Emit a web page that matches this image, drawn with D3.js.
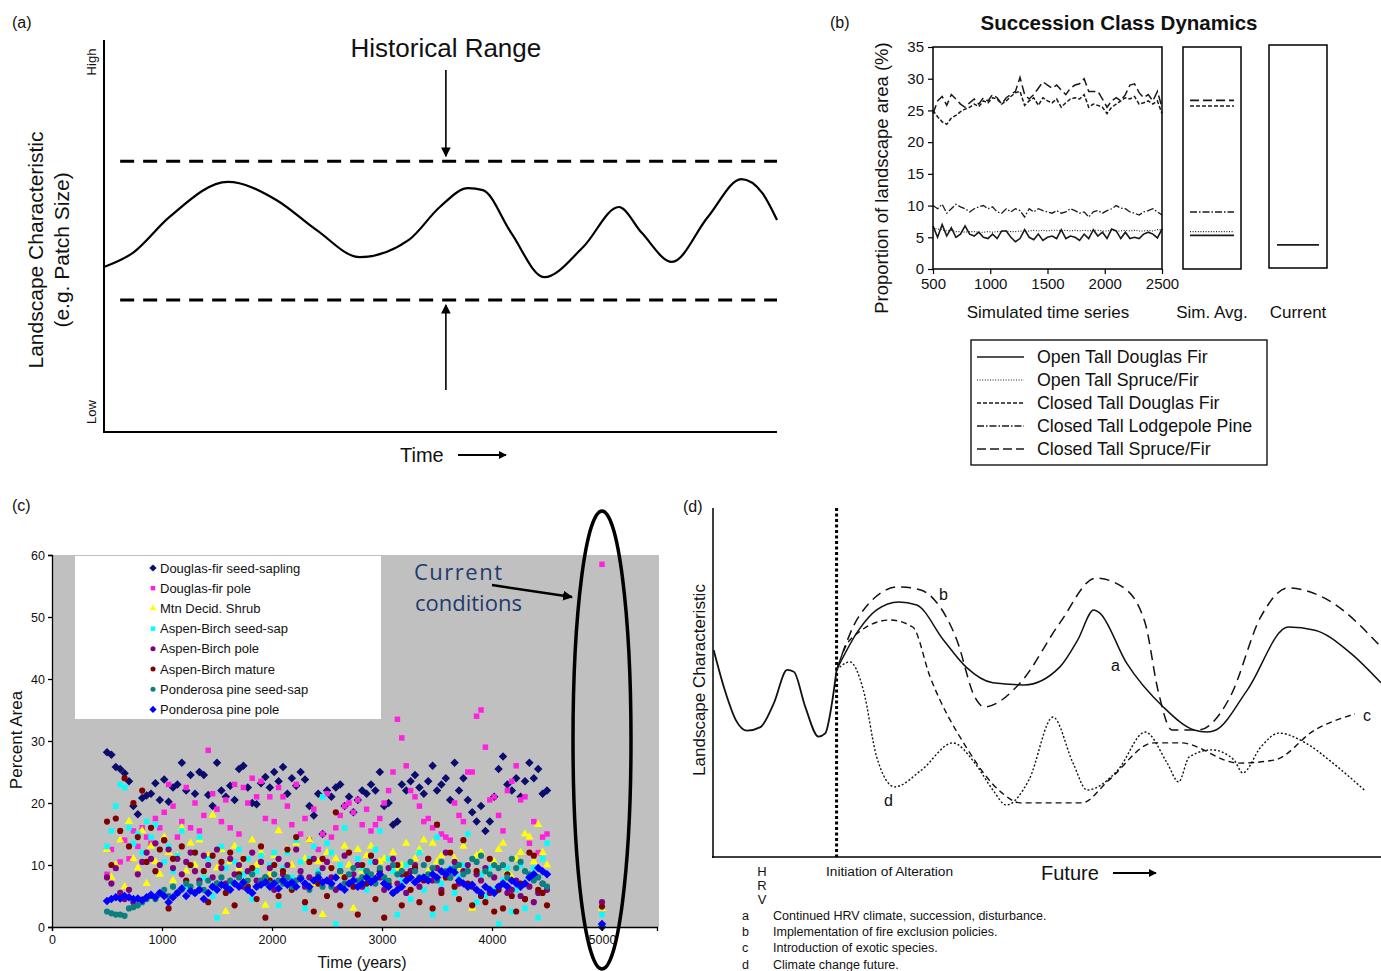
<!DOCTYPE html>
<html><head><meta charset="utf-8">
<script src="https://cdn.jsdelivr.net/npm/d3@7"></script>
<style>body{margin:0;background:#fff}svg{display:block}text{font-family:"Liberation Sans",Arial,sans-serif;fill:#111}</style>
</head><body><svg id="c" width="1381" height="971"></svg>
<script>
// ---------- Panel (a) data (conceptual units 0-100) ----------
const aTime  = [0,4.3,9.7,18.4,25.6,31.6,38.0,45.3,49.9,54.1,56.3,60.5,65.4,71.2,76.5,79.9,84.4,89.7,94.7,97.8,100];
const aValue = [42.1,45.7,54.8,63.8,59.2,51.5,44.6,49.0,57.4,62.2,61.7,50.8,39.5,47.2,57.4,50.8,43.4,54.8,64.5,61.0,54.1];
const aRange = [33.7, 69.1];

// ---------- Panel (b) data ----------
const bTimes = d3.range(500, 2501, 40);
const bOpenDF   = [6.8,5.0,7.0,5.2,6.5,5.0,5.5,6.8,5.5,5.2,5.8,5.0,4.8,5.5,4.8,6.0,6.0,5.0,4.3,4.8,6.2,5.0,4.6,5.5,4.5,5.0,5.2,4.8,6.2,4.8,5.2,5.0,4.5,5.5,4.8,6.2,5.2,5.8,4.8,6.3,6.0,4.8,5.8,4.8,5.0,4.8,5.5,5.8,5.5,4.9,6.3];
const bOpenSF   = [6.5,6.3,6.2,6.0,6.1,5.9,5.9,5.8,5.9,5.9,5.8,5.8,5.9,5.8,5.9,5.9,6.0,5.9,5.9,6.0,5.9,6.0,6.1,6.0,6.1,6.0,6.1,6.1,6.0,6.1,6.0,6.1,6.0,6.1,6.0,6.1,6.1,6.0,6.0,6.1,6.0,6.0,6.1,6.0,6.1,6.0,6.0,6.1,6.0,6.2,6.2];
const bClosedDF = [25.0,24.0,23.2,22.8,23.8,24.2,24.8,25.2,25.5,26.0,25.6,26.5,26.2,27.0,26.8,26.0,26.5,27.2,27.8,28.0,25.8,26.5,27.0,25.8,27.0,26.5,26.2,26.8,25.5,26.2,26.8,27.0,26.8,27.5,25.5,26.0,25.8,25.5,24.5,25.5,26.0,26.5,27.0,26.8,27.2,26.0,26.2,26.5,26.0,26.5,24.5];
const bClosedLP = [10.0,9.5,10.2,8.8,9.5,10.2,9.8,9.5,9.0,9.5,9.8,10.0,9.5,9.8,9.0,8.8,9.5,9.0,9.5,9.2,8.2,9.5,9.0,9.5,9.2,9.0,8.8,9.2,8.8,9.0,9.5,9.2,8.8,9.0,8.2,9.0,9.2,8.8,9.2,9.5,10.0,9.6,9.5,9.0,8.8,8.5,9.0,9.2,9.5,9.0,8.5];
const bClosedSF = [24.5,26.5,27.2,25.8,27.5,26.8,26.0,25.5,26.2,26.8,26.0,27.0,26.5,27.5,27.0,26.0,27.0,27.5,28.0,30.2,27.5,26.8,27.5,28.5,29.5,29.0,28.5,29.0,28.2,27.5,28.5,29.0,29.2,30.0,28.0,28.0,28.0,26.8,25.5,26.5,27.0,26.5,27.5,29.0,29.2,27.8,27.0,27.5,26.5,28.0,25.5];
const bNames   = ["Open Tall Douglas Fir","Open Tall Spruce/Fir","Closed Tall Douglas Fir","Closed Tall Lodgepole Pine","Closed Tall Spruce/Fir"];
const bSimAvg  = [5.3, 5.9, 25.7, 9.0, 26.6];
const bCurrent = [3.8, null, null, null, null];
const bYTicks  = [0,5,10,15,20,25,30,35];
const bXTicks  = [500,1000,1500,2000,2500];

// ---------- Panel (c) data ----------
const cTimes = d3.range(500, 4501, 40);
const cDFSeed = [28.2,27.8,25.8,25.5,24.8,23.5,19.5,18.2,20.8,21.2, 21.5,23.2,20.5,23.8,20.2,22.5,23.0,26.5,22.0,24.5, 21.5,25.0,24.5,21.3,19.5,26.5,22.0,21.0,22.8,20.5, 25.5,26.0,22.5,20.0,19.8,23.2,24.2,22.5,25.0,23.5, 25.8,21.5,24.0,22.8,25.0,23.8,19.5,18.0,21.5,15.0, 22.0,21.0,22.5,23.0,19.5,21.0,18.5,20.5,22.0,21.5, 23.0,22.0,25.0,19.5,20.0,16.5,17.0,23.0,22.0,23.5, 24.5,22.5,21.5,23.5,26.0,22.0,23.0,24.0,20.5,26.5, 22.0,24.0,20.5,18.5,17.0,19.5,15.5,17.0,21.0,25.5, 27.5,23.0,22.0,24.0,21.0,23.5,26.5,24.0,25.5,21.5,22.0];
const cDFPole = [8.5,12.5,9.5,10.5,14.0,11.0,15.5,13.0,16.0,14.5, 13.5,17.5,16.0,18.5,23.0,19.5,14.5,17.0,22.5,16.0, 20.0,15.5,18.0,28.5,21.5,19.0,17.0,20.5,16.0,23.0, 15.0,22.5,20.0,24.0,21.0,23.5,17.5,21.0,17.0,22.5, 21.0,19.5,16.5,23.0,15.0,17.5,14.0,19.0,12.5,15.0, 21.5,14.5,16.0,18.0,19.5,20.0,18.5,20.5,16.5,19.0, 15.5,16.5,17.5,20.0,22.0,25.0,33.5,30.5,26.0,22.0, 21.0,19.5,17.0,17.5,16.0,16.5,15.0,14.5,14.0,20.0, 18.0,17.0,25.0,25.0,34.0,35.0,29.0,20.5,21.0,18.0, 15.5,22.0,23.5,26.0,20.5,21.0,13.5,17.0,12.0,14.5,15.0];
const cShrub = [12.5,8.0,10.0,14.0,6.5,17.0,11.0,9.5,15.5,7.0, 13.0,10.5,8.5,14.5,12.0,7.5,11.5,16.0,9.0,13.5, 10.0,14.0,8.0,11.5,18.0,9.5,12.5,2.5,10.5,13.0, 9.5,11.0,7.5,14.0,10.0,12.0,3.5,8.5,11.5,15.5, 9.0,12.5,10.0,13.5,8.0,11.0,14.0,7.0,10.5,2.0, 12.0,9.5,11.0,8.5,13.0,10.0,3.0,12.5,9.0,11.5, 13.0,8.0,10.5,11.0,7.5,12.0,9.5,10.0,13.5,8.5, 11.0,12.5,14.0,9.0,13.5,10.5,11.5,8.0,12.0,11.0, 9.5,13.0,10.0,3.0,11.5,12.0,9.0,8.5,10.5,12.5, 13.5,9.0,8.0,11.0,12.0,15.0,14.5,10.5,16.5,12.0,10.0];
const cABSeed = [13.0,15.5,19.5,23.0,22.5,16.0,13.5,15.0,12.0,17.0, 14.5,16.5,12.5,10.5,13.0,9.0,11.5,15.5,6.5,10.0, 12.0,14.5,8.0,11.0,5.0,1.5,13.0,9.5,7.0,10.5, 12.5,8.5,11.0,4.5,9.0,11.5,7.0,10.0,12.0,3.5, 9.5,12.0,8.0,14.0,10.5,3.0,11.0,13.0,9.0,21.0, 13.5,12.0,0.5,10.0,16.0,8.5,7.0,11.0,9.5,6.0, 10.5,12.5,15.5,8.0,11.0,9.0,2.0,7.5,10.0,4.5, 9.5,12.0,6.0,8.5,2.0,14.5,7.0,3.0,9.5,5.5, 8.0,10.0,15.0,6.5,4.0,8.5,5.0,9.5,6.0,0.5, 7.5,9.5,2.5,6.0,10.0,3.0,8.0,9.5,1.5,11.0,13.5];
const cABPole = [8.0,7.0,9.5,5.5,4.5,6.0,4.0,8.5,10.5,12.0, 11.0,13.5,10.0,14.0,12.5,9.5,11.0,8.5,10.5,12.0, 9.0,7.5,11.5,10.0,8.0,12.5,9.5,7.0,11.0,8.5, 10.0,6.5,9.0,12.0,7.5,10.5,8.0,9.5,6.0,11.0, 8.5,10.0,7.0,12.5,9.0,6.5,8.0,11.0,7.5,9.5, 10.5,8.0,6.0,9.0,11.5,7.0,8.5,10.0,6.5,9.0, 7.5,10.5,8.0,6.0,9.5,11.0,7.0,8.5,5.5,9.0, 10.0,6.5,8.0,11.0,7.5,9.5,6.0,12.0,8.0,10.5, 7.0,9.0,10.0,6.5,8.5,7.5,9.5,5.5,8.0,6.5, 7.0,5.5,6.0,7.5,5.0,4.5,6.5,4.0,5.5,7.0,6.0];
const cABMature = [17.0,10.0,17.5,15.5,24.0,13.0,20.0,14.5,22.0,10.5, 16.0,9.0,12.5,14.0,3.0,11.0,5.5,13.0,7.5,10.0, 12.0,6.0,9.0,4.0,11.5,7.0,10.5,5.5,12.0,3.5, 8.5,11.0,6.5,9.5,4.5,13.0,1.5,7.5,10.0,5.0, 9.0,12.5,6.0,14.5,8.0,4.0,10.5,2.5,7.0,11.0, 5.0,9.5,18.5,3.5,8.0,12.0,6.5,2.0,10.0,7.0, 11.5,4.5,9.0,1.5,7.0,5.5,10.0,3.5,8.5,6.0, 9.5,4.0,7.5,11.0,3.0,16.5,5.5,8.0,12.0,6.5, 4.5,14.0,7.0,3.5,9.0,5.0,4.0,11.0,2.5,6.0, 3.0,8.5,5.0,2.5,7.0,4.5,12.0,11.5,6.0,5.5,3.5];
const cPPSeed = [2.5,2.2,2.0,2.0,1.8,3.0,3.2,3.5,4.0,4.5, 5.0,4.5,5.5,6.0,5.0,6.5,5.5,6.0,7.0,6.5, 5.5,7.0,6.0,7.5,6.5,7.0,8.0,6.5,7.5,7.0, 8.0,7.0,7.5,8.5,6.5,7.5,8.0,7.0,8.5,7.5, 7.0,8.0,6.5,7.5,8.0,7.0,6.0,7.5,8.5,6.5, 7.5,6.5,8.0,9.0,7.0,8.5,9.5,7.5,8.0,9.0, 8.5,7.0,9.5,8.0,7.5,10.0,8.5,9.0,7.5,10.5, 9.0,8.0,10.0,8.5,9.5,7.5,10.5,9.0,8.0,9.5, 10.0,8.5,9.0,11.0,10.5,11.5,9.0,8.5,10.0,9.5, 10.0,8.0,11.0,9.5,10.5,9.0,8.5,7.5,8.0,7.0,6.5];
const cPPPole = [4.2,4.5,4.8,4.6,5.0,4.8,4.5,4.6,4.3,4.8, 5.2,4.8,5.5,5.0,4.0,4.8,5.5,6.2,5.0,5.8, 5.5,6.0,4.5,5.5,6.5,6.0,6.8,6.5,6.0,7.0, 6.5,7.2,6.0,5.5,6.5,6.8,7.2,6.5,7.0,6.2, 7.5,6.8,7.2,6.5,7.8,7.0,6.5,7.5,8.0,7.2, 7.5,7.0,8.0,6.5,6.0,7.0,7.5,6.5,7.0,8.0, 7.2,7.8,8.5,7.0,6.5,5.5,6.0,6.5,7.5,8.0, 7.2,7.8,8.0,7.5,8.5,8.0,9.0,8.5,9.2,8.8, 7.5,7.0,6.5,6.8,6.0,5.5,6.5,6.0,5.5,6.5, 7.0,6.5,7.5,7.0,6.5,7.0,8.0,8.5,9.5,9.0,8.5];
const cNames   = ["Douglas-fir seed-sapling","Douglas-fir pole","Mtn Decid. Shrub","Aspen-Birch seed-sap","Aspen-Birch pole","Aspen-Birch mature","Ponderosa pine seed-sap","Ponderosa pine pole"];
const cColors  = ["#0c0c6e","#ff22dd","#ffff00","#00ffff","#800080","#800000","#0a8080","#0000ff"];
const cShapes  = ["diamond","square","triangle","square","circle","circle","circle","diamond"];
const cCurrentTime = 5000;
const cCurrent = [0.0, 58.5, 3.0, 2.0, 4.0, 3.3, 0.3, 0.5];
const cYTicks  = [0,10,20,30,40,50,60];
const cXTicks  = [0,1000,2000,3000,4000,5000];

// ---------- Panel (d) data (conceptual units 0-100) ----------
const dHrvT = [0.1,1.75,3.4,5.1,7.1,9.1,11.1,12.1,13.8,15.8,16.8,17.8,18.5];
const dHrvV = [59.3,47.9,39.3,36.2,37.2,44.0,53.6,53.1,43.1,34.5,35.4,44.0,53.6];
const dAT = [18.5,21.8,24.5,27.8,30.5,34.5,37.9,41.9,46.6,51.9,54.6,57.0,57.9,61.9,67.4,72.0,74.0,75.3,80.0,86.1,90.1,95.4,100];
const dAV = [53.6,65.0,70.8,73.1,72.2,62.2,54.4,49.9,49.3,54.4,62.2,70.8,69.9,55.6,43.0,36.4,35.8,36.4,47.9,65.9,65.0,58.5,49.9];
const dBT = [18.5,21.8,27.8,31.1,33.2,36.5,39.2,40.6,46.0,51.9,57.3,61.3,64.7,66.6,68.7,72.7,77.4,82.0,86.1,92.1,100];
const dBV = [53.6,68.8,77.4,76.5,73.6,62.2,45.8,43.0,49.9,67.0,79.9,77.4,67.0,47.9,36.4,36.4,45.8,68.8,77.1,73.6,60.2];
const dCT = [18.5,20.5,26.5,29.9,32.5,37.9,43.3,46.0,55.2,59.3,66.0,70.0,78.7,84.1,90.1,96.1];
const dCV = [53.6,62.2,67.9,65.9,51.6,31.5,18.3,15.5,15.5,22.1,32.7,32.7,26.9,27.8,36.4,41.0];
const dDT = [18.5,20.5,22.5,24.5,27.2,31.2,35.9,39.2,41.9,43.9,47.3,50.9,53.9,56.0,60.6,64.7,68.0,69.7,71.3,74.7,78.0,79.3,82.0,84.7,88.7,92.8,97.5];
const dDV = [53.6,55.9,47.9,28.7,20.1,24.9,32.7,26.9,19.2,14.9,22.1,40.1,26.9,19.2,24.9,35.8,26.9,21.5,28.7,30.7,27.8,24.1,31.5,35.5,32.7,26.9,19.2];
const dAlteration = 18.5;
const dNotes = [["a","Continued HRV climate, succession, disturbance."],["b","Implementation of fire exclusion policies."],["c","Introduction of exotic species."],["d","Climate change future."]];

// ================= drawing =================
const svg = d3.select('#c');
svg.append('rect').attr('width',1381).attr('height',971).attr('fill','#fff');
const defs = svg.append('defs');
defs.append('marker').attr('id','arr').attr('viewBox','0 0 10 10').attr('refX',9).attr('refY',5)
  .attr('markerWidth',6).attr('markerHeight',6).attr('markerUnits','strokeWidth').attr('orient','auto')
  .append('path').attr('d','M0,0L10,5L0,10z').attr('fill','#000');
defs.append('marker').attr('id','arrS').attr('viewBox','0 0 10 10').attr('refX',9).attr('refY',5)
  .attr('markerWidth',4).attr('markerHeight',4).attr('markerUnits','strokeWidth').attr('orient','auto')
  .append('path').attr('d','M0,0L10,5L0,10z').attr('fill','#000');

function txt(g,x,y,s,size,opts={}){
  const t=g.append('text').attr('x',x).attr('y',y).text(s).attr('font-size',size);
  if(opts.anchor) t.attr('text-anchor',opts.anchor);
  if(opts.weight) t.attr('font-weight',opts.weight);
  if(opts.fill) t.style('fill',opts.fill);
  if(opts.rot) t.attr('transform',`rotate(-90,${x},${y})`);
  if(opts.family) t.style('font-family',opts.family);
  if(opts.ls) t.attr('letter-spacing',opts.ls);
  return t;
}

// ---------- Panel (a) ----------
{
  const g = svg.append('g');
  const x = d3.scaleLinear([0,100],[104,777]);
  const y = d3.scaleLinear([0,100],[432,40]);
  txt(g,12,28,'(a)',16);
  g.append('line').attr('x1',104).attr('x2',104).attr('y1',40).attr('y2',433).attr('stroke','#000').attr('stroke-width',2);
  g.append('line').attr('x1',103).attr('x2',777).attr('y1',432).attr('y2',432).attr('stroke','#000').attr('stroke-width',2);
  aRange.forEach(v=>g.append('line').attr('x1',x(2.4)).attr('x2',x(100)).attr('y1',y(v)).attr('y2',y(v))
    .attr('stroke','#000').attr('stroke-width',3).attr('stroke-dasharray','14,9'));
  g.append('path').datum(aTime.map((t,i)=>[t,aValue[i]]))
    .attr('d',d3.line().x(d=>x(d[0])).y(d=>y(d[1])).curve(d3.curveMonotoneX))
    .attr('fill','none').attr('stroke','#000').attr('stroke-width',2.2);
  const xm = x(50.8);
  g.append('line').attr('x1',xm).attr('x2',xm).attr('y1',70).attr('y2',y(aRange[1])-5).attr('stroke','#000').attr('stroke-width',1.6).attr('marker-end','url(#arr)');
  g.append('line').attr('x1',xm).attr('x2',xm).attr('y1',390).attr('y2',y(aRange[0])+5).attr('stroke','#000').attr('stroke-width',1.6).attr('marker-end','url(#arr)');
  txt(g,xm,57,'Historical Range',26,{anchor:'middle'});
  txt(g,400,462,'Time',20);
  g.append('line').attr('x1',458).attr('x2',506).attr('y1',455).attr('y2',455).attr('stroke','#000').attr('stroke-width',2).attr('marker-end','url(#arrS)');
  txt(g,43,250,'Landscape Characteristic',21,{anchor:'middle',rot:true});
  txt(g,69,250,'(e.g. Patch Size)',21,{anchor:'middle',rot:true});
  txt(g,96,62,'High',13,{anchor:'middle',rot:true});
  txt(g,96,412,'Low',13,{anchor:'middle',rot:true});
}

// ---------- Panel (b) ----------
{
  const g = svg.append('g');
  const x = d3.scaleLinear([500,2500],[933,1162]);
  const y = d3.scaleLinear([0,35],[269,47]);
  txt(g,830,28,'(b)',16);
  txt(g,1119,30,'Succession Class Dynamics',20.5,{anchor:'middle',weight:'bold'});
  const dashes = [null,'1,1.6','4,2','7,2,1.5,2','9,4'];
  const widths = [1.6,1.1,1.5,1.3,1.5];
  const series = [bOpenDF,bOpenSF,bClosedDF,bClosedLP,bClosedSF];
  series.forEach((vals,k)=>{
    g.append('path').datum(vals.map((v,i)=>[bTimes[i],v]))
      .attr('d',d3.line().x(d=>x(d[0])).y(d=>y(d[1])))
      .attr('fill','none').attr('stroke','#1a1a1a').attr('stroke-width',widths[k])
      .attr('stroke-dasharray',dashes[k]);
  });
  g.append('rect').attr('x',933).attr('y',47).attr('width',229).attr('height',222).attr('fill','none').attr('stroke','#000').attr('stroke-width',1.5);
  const ya = g.append('g').attr('transform','translate(933,0)').call(d3.axisLeft(y).tickValues(bYTicks).tickSize(5).tickPadding(4));
  const xa = g.append('g').attr('transform','translate(0,269)').call(d3.axisBottom(x).tickValues(bXTicks).tickSize(5).tickPadding(4).tickFormat(d3.format('d')));
  [ya,xa].forEach(a=>{a.select('.domain').remove();a.selectAll('text').attr('font-size',15).style('font-family','"Liberation Sans",Arial,sans-serif').style('fill','#111');a.selectAll('line').attr('stroke','#000').attr('stroke-width',1.2);});
  const yS = y;
  g.append('rect').attr('x',1183).attr('y',47).attr('width',58).attr('height',222).attr('fill','none').attr('stroke','#000').attr('stroke-width',1.5);
  bSimAvg.forEach((v,k)=>g.append('line').attr('x1',1190).attr('x2',1234).attr('y1',yS(v)).attr('y2',yS(v))
    .attr('stroke','#1a1a1a').attr('stroke-width',widths[k]+0.2).attr('stroke-dasharray',dashes[k]));
  g.append('rect').attr('x',1269).attr('y',45).attr('width',58).attr('height',223).attr('fill','none').attr('stroke','#000').attr('stroke-width',1.5);
  bCurrent.forEach((v,k)=>{ if(v==null) return;
    g.append('line').attr('x1',1277).attr('x2',1319).attr('y1',yS(v)).attr('y2',yS(v))
    .attr('stroke','#1a1a1a').attr('stroke-width',widths[k]).attr('stroke-dasharray',dashes[k]);});
  txt(g,888,178,'Proportion of landscape area (%)',18.5,{anchor:'middle',rot:true});
  txt(g,1048,318,'Simulated time series',17,{anchor:'middle'});
  txt(g,1212,318,'Sim. Avg.',17,{anchor:'middle'});
  txt(g,1298,318,'Current',17,{anchor:'middle'});
  g.append('rect').attr('x',971).attr('y',340).attr('width',296).attr('height',125).attr('fill','#fff').attr('stroke','#000').attr('stroke-width',1.3);
  bNames.forEach((n,k)=>{
    const yy = 357 + k*23;
    g.append('line').attr('x1',977).attr('x2',1024).attr('y1',yy).attr('y2',yy)
      .attr('stroke','#1a1a1a').attr('stroke-width',widths[k]).attr('stroke-dasharray',dashes[k]);
    txt(g,1037,yy+6,n,17.8);
  });
}

// ---------- Panel (c) ----------
{
  const g = svg.append('g');
  const x = d3.scaleLinear([0,5500],[52,657]);
  const y = d3.scaleLinear([0,60],[927,555]);
  txt(g,12,511,'(c)',16);
  g.append('rect').attr('x',52).attr('y',555).attr('width',607).attr('height',372).attr('fill','#c0c0c0');
  const shapeOf = {diamond:d3.symbolSquare,square:d3.symbolSquare,triangle:d3.symbolTriangle,circle:d3.symbolCircle};
  const sizeOf = {diamond:36,square:30,triangle:30,circle:30};
  const rotOf = {diamond:45,square:0,triangle:0,circle:0};
  const all = [cDFSeed,cDFPole,cShrub,cABSeed,cABPole,cABMature,cPPSeed,cPPPole];
  all.forEach((vals,k)=>{
    const s = cShapes[k];
    const sym = d3.symbol().type(shapeOf[s]).size(sizeOf[s]);
    g.append('g').selectAll('path').data(vals.map((v,i)=>[cTimes[i],v]).concat([[cCurrentTime,cCurrent[k]]]))
      .join('path').attr('d',sym).attr('transform',d=>`translate(${x(d[0])},${y(d[1])}) rotate(${rotOf[s]})`).attr('fill',cColors[k]);
  });
  const ya = g.append('g').attr('transform','translate(52,0)').call(d3.axisLeft(y).tickValues(cYTicks).tickSize(4).tickPadding(3));
  const xa = g.append('g').attr('transform','translate(0,927)').call(d3.axisBottom(x).tickValues(cXTicks).tickSize(4).tickPadding(4).tickFormat(d3.format('d')));
  [ya,xa].forEach(a=>{a.selectAll('text').attr('font-size',12.5).style('font-family','"Liberation Sans",Arial,sans-serif').style('fill','#111');a.selectAll('line,path').attr('stroke','#000').attr('stroke-width',1.3);});
  g.append('rect').attr('x',75).attr('y',556).attr('width',306).attr('height',163).attr('fill','#fff');
  cNames.forEach((n,k)=>{
    const yy = 568 + k*20.2;
    const s = cShapes[k];
    const sym = d3.symbol().type(shapeOf[s]).size(sizeOf[s]-10);
    g.append('path').attr('d',sym).attr('transform',`translate(153,${yy}) rotate(${rotOf[s]})`).attr('fill',cColors[k]);
    txt(g,160,yy+4.5,n,13);
  });
  txt(g,22,740,'Percent Area',17,{anchor:'middle',rot:true});
  txt(g,362,968,'Time (years)',16,{anchor:'middle'});
  g.append('ellipse').attr('cx',x(cCurrentTime)).attr('cy',740).attr('rx',29).attr('ry',229).attr('fill','none').attr('stroke','#000').attr('stroke-width',3.5);
  txt(g,414,580,'Current',22,{fill:'#1f3a6e',family:'"Open Sans",sans-serif',ls:'1.5'});
  txt(g,415,611,'conditions',22,{fill:'#1f3a6e',family:'"Open Sans",sans-serif'});
  g.append('line').attr('x1',492).attr('y1',585).attr('x2',572).attr('y2',597).attr('stroke','#000').attr('stroke-width',2.5).attr('marker-end','url(#arrS)');
}

// ---------- Panel (d) ----------
{
  const g = svg.append('g');
  const x = d3.scaleLinear([0,100],[713,1381]);
  const y = d3.scaleLinear([0,100],[857,508]);
  txt(g,683,512,'(d)',16);
  g.append('line').attr('x1',713).attr('x2',713).attr('y1',508).attr('y2',858).attr('stroke','#000').attr('stroke-width',1.5);
  g.append('line').attr('x1',712).attr('x2',1381).attr('y1',857).attr('y2',857).attr('stroke','#000').attr('stroke-width',1.5);
  g.append('line').attr('x1',x(dAlteration)).attr('x2',x(dAlteration)).attr('y1',508).attr('y2',857).attr('stroke','#000').attr('stroke-width',3).attr('stroke-dasharray','3,2.5');
  const line = d3.line().x(d=>x(d[0])).y(d=>y(d[1])).curve(d3.curveMonotoneX);
  const curves = [[dHrvT,dHrvV,null,1.8],[dAT,dAV,null,1.5],[dBT,dBV,'10,6',1.5],[dCT,dCV,'6,4',1.4],[dDT,dDV,'2,2',1.4]];
  curves.forEach(([T,V,da,w])=>g.append('path').datum(T.map((t,i)=>[t,V[i]])).attr('d',line)
    .attr('fill','none').attr('stroke','#111').attr('stroke-width',w).attr('stroke-dasharray',da));
  txt(g,939,600,'b',16); txt(g,1111,671,'a',16); txt(g,1363,721,'c',16); txt(g,884,806,'d',16);
  txt(g,705,680,'Landscape Characteristic',17,{anchor:'middle',rot:true});
  ['H','R','V'].forEach((c,i)=>txt(g,762,876+i*14,c,13,{anchor:'middle'}));
  txt(g,826,876,'Initiation of Alteration',13.7);
  txt(g,1041,880,'Future',20);
  g.append('line').attr('x1',1113).attr('x2',1156).attr('y1',873).attr('y2',873).attr('stroke','#000').attr('stroke-width',2).attr('marker-end','url(#arrS)');
  dNotes.forEach(([l,s],i)=>{ txt(g,742,920+i*16.2,l,12.5); txt(g,773,920+i*16.2,s,12.5); });
}
</script></body></html>
